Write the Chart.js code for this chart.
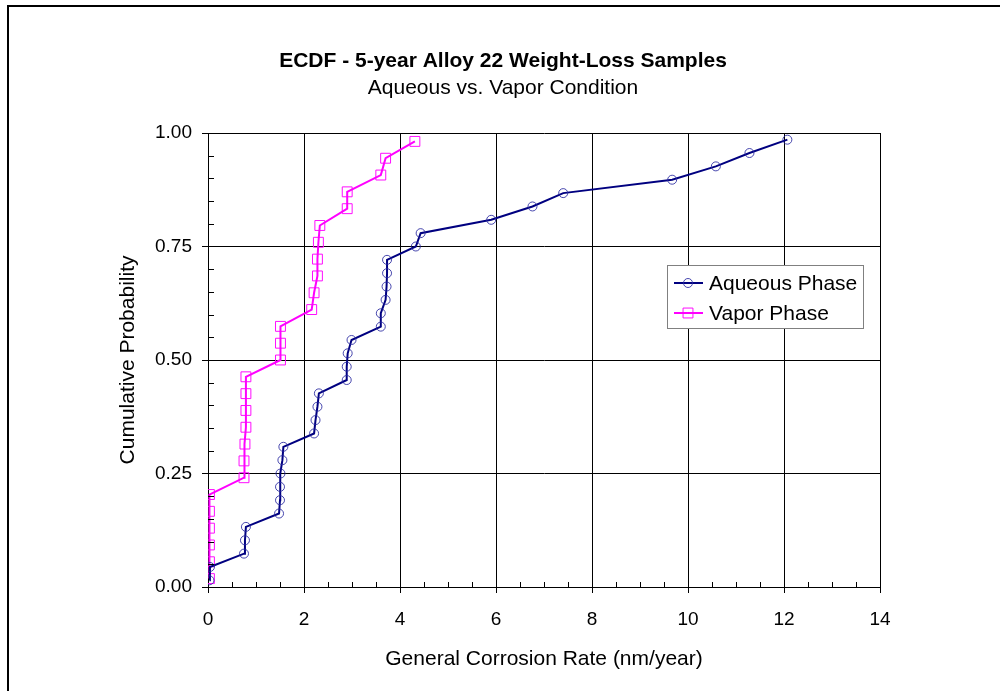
<!DOCTYPE html>
<html>
<head>
<meta charset="utf-8">
<script src="https://cdn.jsdelivr.net/npm/chart.js@4.4.1/dist/chart.umd.min.js"></script>
<style>
html, body { margin: 0; padding: 0; background: #fff; }
canvas { display: block; }
</style>
</head>
<body>
<canvas id="ecdfChart" width="1000" height="691"></canvas>
<script>
// aqueous phase samples (n = 34)
const aqueousRate = [0.03, 0.04, 0.75, 0.77, 0.79, 1.48, 1.50, 1.50, 1.51, 1.55, 1.57, 2.21, 2.24, 2.28, 2.31, 2.89, 2.89,
    2.91, 2.99, 3.60, 3.60, 3.70, 3.72, 3.73, 3.73, 4.33, 4.43, 5.90, 6.76, 7.40, 9.67, 10.58, 11.28, 12.07];
const aqueousProb = [0.0147, 0.0441, 0.0735, 0.1029, 0.1324, 0.1618, 0.1912, 0.2206, 0.2500, 0.2794, 0.3088, 0.3382,
    0.3676, 0.3971, 0.4265, 0.4559, 0.4853, 0.5147, 0.5441, 0.5735, 0.6029, 0.6324, 0.6618, 0.6912, 0.7206, 0.7500,
    0.7794, 0.8088, 0.8382, 0.8676, 0.8971, 0.9265, 0.9559, 0.9853];

// vapor phase samples (n = 27)
const vaporRate = [0.03, 0.03, 0.03, 0.03, 0.03, 0.03, 0.75, 0.75, 0.77, 0.79, 0.79, 0.79, 0.79, 1.51, 1.51, 1.51,
    2.16, 2.21, 2.28, 2.28, 2.30, 2.33, 2.90, 2.90, 3.60, 3.70, 4.31];
const vaporProb = [0.0185, 0.0556, 0.0926, 0.1296, 0.1667, 0.2037, 0.2407, 0.2778, 0.3148, 0.3519, 0.3889, 0.4259,
    0.4630, 0.5000, 0.5370, 0.5741, 0.6111, 0.6481, 0.6852, 0.7222, 0.7593, 0.7963, 0.8333, 0.8704, 0.9074, 0.9444,
    0.9815];

const xTicks = [0, 2, 4, 6, 8, 10, 12, 14];
const yTicks = [0, 0.25, 0.5, 0.75, 1];
const seriesNames = ["Aqueous Phase", "Vapor Phase"];

const FONT = "'Liberation Sans', Arial, sans-serif";

function toPoints(xs, ys) {
    return xs.map((x, i) => ({ x: x, y: ys[i] }));
}

// white page + the black frame on the left and top
const framePlugin = {
    id: "frame",
    beforeDraw(chart) {
        const ctx = chart.ctx;
        ctx.save();
        ctx.fillStyle = "#fff";
        ctx.fillRect(0, 0, chart.width, chart.height);
        ctx.fillStyle = "#000";
        ctx.fillRect(7, 5, 2, chart.height - 5);
        ctx.fillRect(7, 5, chart.width - 7, 2);
        ctx.restore();
    }
};

// small inside ticks between the labelled ones
const minorTickPlugin = {
    id: "minorTicks",
    afterDraw(chart) {
        const ctx = chart.ctx;
        const xs = chart.scales.x, ys = chart.scales.y;
        const a = chart.chartArea;
        ctx.save();
        ctx.strokeStyle = "#000";
        ctx.lineWidth = 1;
        ctx.beginPath();
        for (let v = 0.5; v < 14; v += 0.5) {
            if (v % 2 === 0) continue;
            const px = Math.round(xs.getPixelForValue(v)) + 0.5;
            ctx.moveTo(px, a.bottom);
            ctx.lineTo(px, a.bottom - 5);
        }
        for (let k = 1; k < 20; k++) {
            if (k % 5 === 0) continue;
            const py = Math.round(ys.getPixelForValue(k * 0.05)) + 0.5;
            ctx.moveTo(a.left, py);
            ctx.lineTo(a.left + 6, py);
        }
        ctx.stroke();
        ctx.restore();
    }
};

// boxed legend inside the plot, right side
const boxLegendPlugin = {
    id: "boxLegend",
    afterDraw(chart) {
        const ctx = chart.ctx;
        const a = chart.chartArea;
        const bx = a.right - 213, by = a.top + 132, bw = 196, bh = 63;
        ctx.save();
        ctx.fillStyle = "#fff";
        ctx.fillRect(bx, by, bw, bh);
        ctx.strokeStyle = "#808080";
        ctx.lineWidth = 1;
        ctx.strokeRect(bx + 0.5, by + 0.5, bw, bh);

        chart.data.datasets.forEach((ds, i) => {
            const y = by + 18 + i * 30;
            ctx.strokeStyle = ds.borderColor;
            ctx.lineWidth = ds.borderWidth;
            ctx.beginPath();
            ctx.moveTo(bx + 7, y);
            ctx.lineTo(bx + 36, y);
            ctx.stroke();
            ctx.strokeStyle = ds.pointBorderColor;
            ctx.fillStyle = "rgba(0,0,0,0)";
            ctx.lineWidth = 1;
            Chart.helpers.drawPoint(ctx, {
                pointStyle: ds.pointStyle,
                radius: ds.pointRadius,
                borderWidth: 1,
                rotation: 0
            }, bx + 21, y);
            ctx.fillStyle = "#000";
            ctx.font = "21px " + FONT;
            ctx.textBaseline = "middle";
            ctx.textAlign = "left";
            ctx.fillText(ds.label, bx + 42, y + 1);
        });
        ctx.restore();
    }
};

const ctx = document.getElementById("ecdfChart").getContext("2d");

new Chart(ctx, {
    type: "scatter",
    data: {
        datasets: [
            {
                label: seriesNames[0],
                data: toPoints(aqueousRate, aqueousProb),
                showLine: true,
                tension: 0,
                borderColor: "#000080",
                borderWidth: 2,
                pointStyle: "circle",
                pointRadius: 4.5,
                pointBorderWidth: 1,
                pointBorderColor: "rgba(40,40,160,0.85)",
                pointBackgroundColor: "rgba(0,0,0,0)"
            },
            {
                label: seriesNames[1],
                data: toPoints(vaporRate, vaporProb),
                showLine: true,
                tension: 0,
                borderColor: "#ff00ff",
                borderWidth: 2,
                pointStyle: "rect",
                pointRadius: 7,
                pointBorderWidth: 1,
                pointBorderColor: "rgba(255,0,255,0.95)",
                pointBackgroundColor: "rgba(0,0,0,0)"
            }
        ]
    },
    options: {
        responsive: false,
        animation: false,
        devicePixelRatio: 1,
        layout: { padding: { left: 6, right: 0, top: 0, bottom: 0 } },
        plugins: {
            legend: { display: false },
            tooltip: { enabled: false },
            title: {
                display: true,
                text: "ECDF - 5-year Alloy 22 Weight-Loss Samples",
                color: "#000",
                font: { family: FONT, size: 21, weight: "bold", lineHeight: 1.2 },
                padding: { top: 48.4, bottom: 1.8 }
            },
            subtitle: {
                display: true,
                text: "Aqueous vs. Vapor Condition",
                color: "#000",
                font: { family: FONT, size: 21, weight: "normal", lineHeight: 1.2 },
                padding: { top: 0, bottom: 32.4 }
            }
        },
        scales: {
            x: {
                type: "linear",
                min: 0,
                max: 14,
                afterBuildTicks: s => { s.ticks = xTicks.map(v => ({ value: v })); },
                afterFit: s => { s.height = 104; },
                grid: { color: "#000", lineWidth: 1, drawTicks: true, tickLength: 6, tickColor: "#000" },
                border: { color: "#000", width: 1 },
                ticks: { color: "#000", font: { family: FONT, size: 19 }, padding: 15, maxRotation: 0 },
                title: {
                    display: true,
                    text: "General Corrosion Rate (nm/year)",
                    color: "#000",
                    font: { family: FONT, size: 21, lineHeight: 1.2 },
                    padding: { top: 0, bottom: 19.4 }
                }
            },
            y: {
                type: "linear",
                min: 0,
                max: 1,
                afterBuildTicks: s => { s.ticks = yTicks.map(v => ({ value: v })); },
                afterFit: s => { s.width = 202; },
                grid: { color: "#000", lineWidth: 1, drawTicks: true, tickLength: 6, tickColor: "#000" },
                border: { color: "#000", width: 1 },
                ticks: {
                    color: "#000",
                    font: { family: FONT, size: 19 },
                    padding: 10,
                    callback: v => Number(v).toFixed(2)
                },
                title: {
                    display: true,
                    text: "Cumulative Probability",
                    color: "#000",
                    font: { family: FONT, size: 21, lineHeight: 1.2 },
                    padding: { top: 109.4, bottom: 0 }
                }
            },
            // empty axis that only keeps the white margin on the right
            yr: {
                type: "linear",
                position: "right",
                min: 0,
                max: 1,
                afterFit: s => { s.width = 120; },
                grid: { display: false, drawTicks: false },
                border: { display: false },
                ticks: { display: false }
            }
        }
    },
    plugins: [framePlugin, minorTickPlugin, boxLegendPlugin]
});
</script>
</body>
</html>
